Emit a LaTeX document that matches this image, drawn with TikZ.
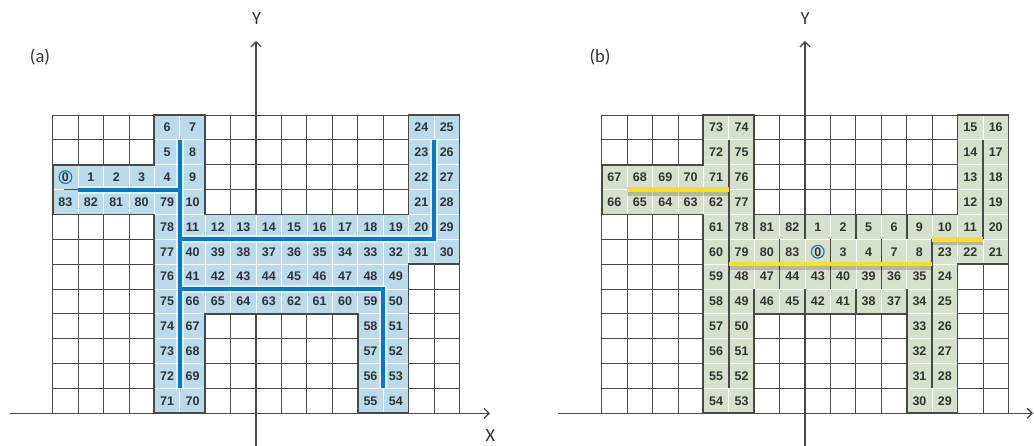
\documentclass[tikz,border=0pt]{standalone}
\usepackage{fontspec}
\setmainfont{Liberation Sans}
\newfontfamily\labelfont{Carlito}
\usetikzlibrary{arrows.meta}

\definecolor{cellblue}{RGB}{186,219,236}
\definecolor{cellgreen}{RGB}{214,225,203}
\definecolor{treeblue}{RGB}{0,122,199}
\definecolor{treeyellow}{RGB}{246,226,30}
\definecolor{gridgray}{RGB}{72,72,72}
\definecolor{txtgray}{RGB}{50,50,50}
\definecolor{circblue}{RGB}{30,120,185}

\tikzset{
 gridline/.style={draw=gridgray, line width=0.9pt},
 cellA/.style={fill=cellblue, draw=white, line width=0.8pt},
 cellB/.style={fill=cellgreen, draw=white, line width=0.8pt},
 outline/.style={draw=gridgray, line width=1.8pt, line join=miter},
 wall/.style={draw=gridgray, line width=1.6pt},
 treeA/.style={draw=treeblue, line width=4pt},
 glowA/.style={draw=white, opacity=0.6, line width=8pt},
 treeB/.style={draw=treeyellow, line width=4.5pt},
 shadowB/.style={draw=black, opacity=0.18, line width=8pt},
 num/.style={font=\bfseries\fontsize{12.5}{12.5}\selectfont, text=txtgray, inner sep=0pt},
 zero/.style={num, draw=circblue, line width=1.2pt, circle, inner sep=0.5pt},
 axisline/.style={draw=gridgray, line width=1.3pt},
 axisarrow/.style={axisline, -{Straight Barb[length=5pt,width=10pt]}},
 lbl/.style={font=\labelfont\fontsize{18.5}{18.5}\selectfont, text=txtgray, inner sep=0pt},
}

\def\listA{4/0/6, 5/0/7, 14/0/24, 15/0/25,
4/1/5, 5/1/8, 14/1/23, 15/1/26,
1/2/1, 2/2/2, 3/2/3, 4/2/4, 5/2/9, 14/2/22, 15/2/27,
0/3/83, 1/3/82, 2/3/81, 3/3/80, 4/3/79, 5/3/10, 14/3/21, 15/3/28,
4/4/78, 5/4/11, 6/4/12, 7/4/13, 8/4/14, 9/4/15, 10/4/16, 11/4/17, 12/4/18, 13/4/19, 14/4/20, 15/4/29,
4/5/77, 5/5/40, 6/5/39, 7/5/38, 8/5/37, 9/5/36, 10/5/35, 11/5/34, 12/5/33, 13/5/32, 14/5/31, 15/5/30,
4/6/76, 5/6/41, 6/6/42, 7/6/43, 8/6/44, 9/6/45, 10/6/46, 11/6/47, 12/6/48, 13/6/49,
4/7/75, 5/7/66, 6/7/65, 7/7/64, 8/7/63, 9/7/62, 10/7/61, 11/7/60, 12/7/59, 13/7/50,
4/8/74, 5/8/67, 12/8/58, 13/8/51,
4/9/73, 5/9/68, 12/9/57, 13/9/52,
4/10/72, 5/10/69, 12/10/56, 13/10/53,
4/11/71, 5/11/70, 12/11/55, 13/11/54}

\def\listB{4/0/73, 5/0/74, 14/0/15, 15/0/16,
4/1/72, 5/1/75, 14/1/14, 15/1/17,
0/2/67, 1/2/68, 2/2/69, 3/2/70, 4/2/71, 5/2/76, 14/2/13, 15/2/18,
0/3/66, 1/3/65, 2/3/64, 3/3/63, 4/3/62, 5/3/77, 14/3/12, 15/3/19,
4/4/61, 5/4/78, 6/4/81, 7/4/82, 8/4/1, 9/4/2, 10/4/5, 11/4/6, 12/4/9, 13/4/10, 14/4/11, 15/4/20,
4/5/60, 5/5/79, 6/5/80, 7/5/83, 9/5/3, 10/5/4, 11/5/7, 12/5/8, 13/5/23, 14/5/22, 15/5/21,
4/6/59, 5/6/48, 6/6/47, 7/6/44, 8/6/43, 9/6/40, 10/6/39, 11/6/36, 12/6/35, 13/6/24,
4/7/58, 5/7/49, 6/7/46, 7/7/45, 8/7/42, 9/7/41, 10/7/38, 11/7/37, 12/7/34, 13/7/25,
4/8/57, 5/8/50, 12/8/33, 13/8/26,
4/9/56, 5/9/51, 12/9/32, 13/9/27,
4/10/55, 5/10/52, 12/10/31, 13/10/28,
4/11/54, 5/11/53, 12/11/30, 13/11/29}

\begin{document}
\begin{tikzpicture}[x=1pt,y=-1pt]
\useasboundingbox (0,0) rectangle (1034,445);

%================ panel (a)
\begin{scope}[shift={(52.7pt,-115pt)}, x=25.42pt, y=-24.86pt]
  \foreach \i in {0,...,16} \draw[gridline] (\i,0) -- (\i,12);
  \foreach \j in {0,...,12} \draw[gridline] (0,\j) -- (16,\j);
  \coordinate (ay0) at (8,13.3);
  \coordinate (ay1) at (8,-2.98);
  \coordinate (ax0) at (-1.68,12);
  \coordinate (ax1) at (17.2,12);
  \draw[axisarrow] (ay0) -- (ay1);
  \draw[axisarrow] (ax0) -- (ax1);
  \foreach \c/\r/\t in \listA { \path[cellA] (\c,\r) rectangle ++(1,1); }
  \path[cellA] (0,2) rectangle ++(1,1);
  \draw[outline] (0,2) -- (4,2) -- (4,0) -- (6,0) -- (6,4) -- (14,4) -- (14,0) -- (16,0) -- (16,6) -- (14,6) -- (14,12) -- (12,12) -- (12,8) -- (6,8) -- (6,12) -- (4,12) -- (4,4) -- (0,4) -- cycle;
  \draw[wall, line width=1.3pt] (0.45,3) -- (1,3);
  \draw[glowA] (1,3) -- (5,3) (5,1) -- (5,11) (5,5) -- (15,5) -- (15,1) (5,7) -- (13,7) -- (13,11);
  \draw[treeA] (1,3) -- (5,3);
  \draw[treeA] (5,1) -- (5,11);
  \draw[treeA] (5,5) -- (15,5) -- (15,1);
  \draw[treeA] (5,7) -- (13,7) -- (13,11);
  \foreach \c/\r/\t in \listA { \node[num] (a-\c-\r) at (\c+0.5,\r+0.5) {\t}; }
  \node[zero] (a-0-2) at (0.5,2.5) {0};
\end{scope}

%================ panel (b)
\begin{scope}[shift={(601.7pt,-115pt)}, x=25.42pt, y=-24.86pt]
  \foreach \i in {0,...,16} \draw[gridline] (\i,0) -- (\i,12);
  \foreach \j in {0,...,12} \draw[gridline] (0,\j) -- (16,\j);
  \coordinate (by0) at (8,13.3);
  \coordinate (by1) at (8,-2.98);
  \coordinate (bx0) at (-1.72,12);
  \coordinate (bx1) at (16.97,12);
  \draw[axisarrow] (by0) -- (by1);
  \draw[axisarrow] (bx0) -- (bx1);
  \foreach \c/\r/\t in \listB { \path[cellB] (\c,\r) rectangle ++(1,1); }
  \path[cellB] (8,5) rectangle ++(1,1);
  % walls
  \draw[wall] (5,1) -- (5,11);
  \draw[wall] (6,4) -- (6,5) (6,7) -- (6,8);
  \draw[wall] (7,5) -- (7,7);
  \draw[wall] (8,4) -- (8,5) (8,7) -- (8,8);
  \draw[wall] (9,5) -- (9,7);
  \draw[wall] (10,4) -- (10,5) (10,7) -- (10,8);
  \draw[wall] (11,5) -- (11,7);
  \draw[wall] (12,4) -- (12,5) (12,7) -- (12,8);
  \draw[wall] (13,5) -- (13,11);
  \draw[wall] (15,1) -- (15,5);
  \draw[outline] (0,2) -- (4,2) -- (4,0) -- (6,0) -- (6,4) -- (14,4) -- (14,0) -- (16,0) -- (16,6) -- (14,6) -- (14,12) -- (12,12) -- (12,8) -- (6,8) -- (6,12) -- (4,12) -- (4,4) -- (0,4) -- cycle;
  % yellow with shadow
  \begin{scope}[yshift=-2pt]
    \draw[shadowB] (1,3) -- (5,3) (5,6) -- (13,6) (13,5) -- (15,5);
  \end{scope}
  \draw[treeB] (1,3) -- (5,3);
  \draw[treeB] (5,6) -- (13,6);
  \draw[treeB] (13,5) -- (15,5);
  \foreach \c/\r/\t in \listB { \node[num] (b-\c-\r) at (\c+0.5,\r+0.5) {\t}; }
  \node[zero] (b-8-5) at (8.5,5.5) {0};
\end{scope}

%================ labels
\node[lbl] (ya) at (256.7,19) {Y};
\node[lbl] (xa) at (490.5,436) {X};
\node[lbl] (pa) at (40,57) {(a)};
\node[lbl] (yb) at (805,19) {Y};
\node[lbl] (pb) at (600,57) {(b)};
\end{tikzpicture}
\end{document}
